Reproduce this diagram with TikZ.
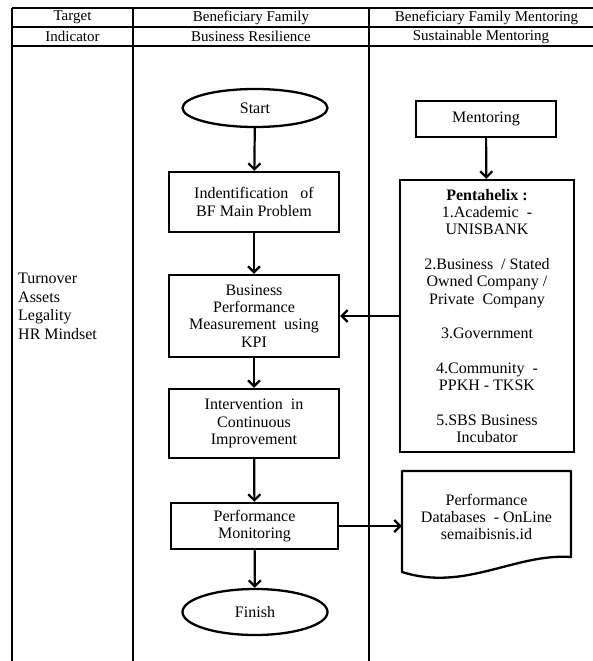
\documentclass[tikz,border=0pt]{standalone}
\usepackage{fontspec}
\setmainfont{Liberation Serif}
\usetikzlibrary{shapes.geometric,arrows.meta}
\tikzset{
  tbl/.style={line width=1.1pt},
  hd/.style={font=\fontsize{15}{17}\selectfont,inner sep=0pt},
  txt/.style={font=\fontsize{16}{17.3}\selectfont,align=center,inner sep=0pt},
  proc/.style={txt,draw,line width=2.3pt,minimum width=170pt},
  term/.style={txt,draw,ellipse,line width=2.3pt,minimum width=145pt},
  arr/.style={line width=2.2pt,-{Straight Barb[length=6pt,width=12pt]}}
}
\begin{document}
\begin{tikzpicture}[x=1pt,y=-1pt]
      \useasboundingbox (0,0) rectangle (593,661);
      \draw[tbl]
        (12,8) -- (593,8)
        (12,27) -- (593,27)
        (12,46) -- (593,46)
        (12,8) -- (12,661)
        (133,8) -- (133,661)
        (369,8) -- (369,661);
      \path[hd]
        (72.5,17.5) node (target){Target}
        (72.5,36.5) node (indic){Indicator}
        (251,17.5) node (bfam){Beneficiary Family}
        (251,36.5) node (bres){Business Resilience}
        (486.5,17.5) node (bment){Beneficiary Family Mentoring}
        (481,36.5) node (sment){Sustainable Mentoring};
      \path (18,273) node[txt,align=left,anchor=north west,font=\fontsize{16}{18.5}\selectfont] (kpis){Turnover\\Assets\\Legality\\HR Mindset};
      \draw
        (255,108) node[term,minimum height=38pt] (start){Start}
        (254,202) node[proc,minimum height=60pt] (prob){Indentification\ \ \ of\\BF Main Problem}
        (254,316) node[proc,minimum height=82pt] (kpi){Business\\Performance\\Measurement\ \ using\\KPI}
        (254,423.5) node[proc,minimum height=69pt] (impr){Intervention\ \ in\\Continuous\\Improvement}
        (254.5,526) node[proc,minimum width=167pt,minimum height=46pt] (mon){Performance\\Monitoring}
        (255,612) node[term,minimum height=46pt] (finish){Finish}
        (486,119) node[proc,minimum width=140pt,minimum height=36pt] (ment){Mentoring}
        (487,316) node[proc,minimum width=174pt,minimum height=272pt] (penta){\textbf{Pentahelix :}\\1.Academic\ \ -\\UNISBANK\\[17.3pt]2.Business\ \ / Stated\\Owned Company /\\Private\ \ Company\\[17.3pt]3.Government\\[17.3pt]4.Community\ \ -\\PPKH - TKSK\\[17.3pt]5.SBS Business\\Incubator}
        (486.5,517) node[txt,minimum width=169pt] (db){Performance\\Databases\ \ - OnLine\\semaibisnis.id};
      \draw[line width=2.3pt,line join=round]
        (402,471) -- (571,471) -- (571,557)
        .. controls (515,553) and (465,592) .. (402,572) -- cycle;
      \begin{scope}[arr]
        \draw (start) to (prob);
        \draw (prob) to (kpi);
        \draw (kpi) to (impr);
        \draw (impr) to (mon);
        \draw (mon) to (finish);
        \draw (ment) to (penta);
        \draw (penta.west |- kpi) to (kpi.east);
        \draw (mon.east) to (mon.east -| db.west);
      \end{scope}
    \end{tikzpicture}
\end{document}
